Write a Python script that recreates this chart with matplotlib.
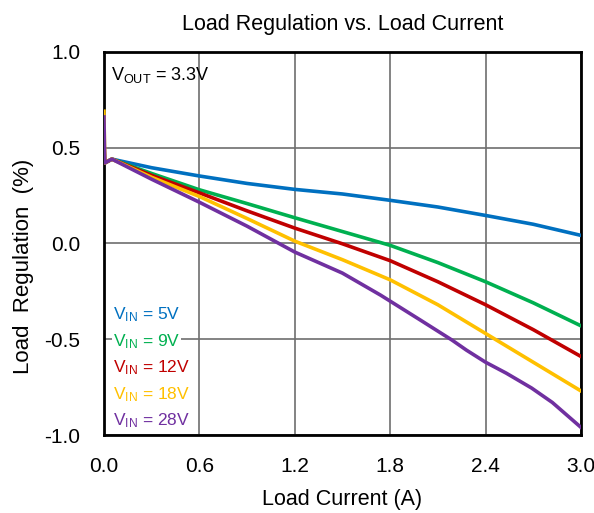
import matplotlib
matplotlib.use("Agg")
import matplotlib.pyplot as plt

plt.rcParams['font.family'] = ['Liberation Sans', 'DejaVu Sans']
plt.rcParams['mathtext.default'] = 'regular'

# load current (A) and load regulation (%)
x_5v = [0.0, 0.005, 0.05, 0.3, 0.6, 0.9, 1.2, 1.5, 1.8, 2.1, 2.4, 2.7, 3.0]
y_5v = [0.45, 0.42, 0.44, 0.395, 0.352, 0.313, 0.282, 0.258, 0.225, 0.19, 0.146, 0.10, 0.042]

x_9v = [0.0, 0.005, 0.05, 0.3, 0.6, 0.9, 1.2, 1.5, 1.8, 2.1, 2.4, 2.7, 3.0]
y_9v = [0.50, 0.42, 0.44, 0.365, 0.28, 0.208, 0.134, 0.062, -0.01, -0.10, -0.20, -0.31, -0.43]

x_12v = [0.0, 0.005, 0.05, 0.3, 0.6, 0.9, 1.2, 1.5, 1.8, 2.1, 2.4, 2.7, 3.0]
y_12v = [0.55, 0.42, 0.44, 0.355, 0.264, 0.17, 0.08, -0.002, -0.09, -0.20, -0.32, -0.45, -0.59]

x_18v = [0.0, 0.005, 0.05, 0.3, 0.6, 0.9, 1.2, 1.5, 1.8, 2.1, 2.4, 2.7, 3.0]
y_18v = [0.69, 0.42, 0.44, 0.345, 0.245, 0.13, 0.012, -0.085, -0.19, -0.32, -0.47, -0.62, -0.77]

x_28v = [0.0, 0.005, 0.05, 0.3, 0.6, 0.9, 1.2, 1.5, 1.74, 1.99, 2.19, 2.28, 2.4, 2.53, 2.69, 2.82, 3.0]
y_28v = [0.66, 0.42, 0.44, 0.335, 0.215, 0.09, -0.045, -0.155, -0.27, -0.40, -0.505, -0.557, -0.62, -0.677, -0.755, -0.83, -0.96]

labels = ['5V', '9V', '12V', '18V', '28V']
colors = ['#0070C0', '#00B050', '#C00000', '#FFC000', '#7030A0']
series = [(x_5v, y_5v), (x_9v, y_9v), (x_12v, y_12v), (x_18v, y_18v), (x_28v, y_28v)]

fig = plt.figure(figsize=(5.94, 5.13), dpi=100)
ax = fig.add_axes([0.175, 0.152, 0.803, 0.747])

for (xs, ys), c in zip(series, colors):
    ax.plot(xs, ys, color=c, linewidth=2.6, zorder=3, solid_joinstyle='round')

ax.set_xlim(0, 3.0)
ax.set_ylim(-1.0, 1.0)
ax.set_xticks([0.0, 0.6, 1.2, 1.8, 2.4, 3.0])
ax.set_yticks([-1.0, -0.5, 0.0, 0.5, 1.0])
ax.xaxis.set_major_formatter(matplotlib.ticker.FormatStrFormatter('%.1f'))
ax.yaxis.set_major_formatter(matplotlib.ticker.FormatStrFormatter('%.1f'))
ax.tick_params(length=0, labelsize=15)
ax.tick_params(axis='y', pad=17)
ax.tick_params(axis='x', pad=16)
ax.grid(True, color='#6e6e6e', linewidth=1.2)
for s in ax.spines.values():
    s.set_linewidth(2)
    s.set_color('black')

ax.set_title('Load Regulation vs. Load Current', fontsize=15.5, pad=15.5)
ax.set_xlabel('Load Current (A)', fontsize=15.5, labelpad=9)
ax.set_ylabel('Load  Regulation  (%)', fontsize=16)
ax.yaxis.set_label_coords(-0.147, 0.44)

ax.text(0.015, 0.965, r'$V_{OUT}$ = 3.3V', transform=ax.transAxes, fontsize=13,
        va='top', ha='left')

for i, (lab, c) in enumerate(zip(labels, colors)):
    ax.text(0.018, 0.313 - i * 0.069, r'$V_{IN}$ = ' + lab, transform=ax.transAxes,
            fontsize=12.5, color=c, va='center', ha='left',
            bbox=dict(facecolor='white', edgecolor='none', pad=0.5))

fig.savefig('out.png', dpi=100)
